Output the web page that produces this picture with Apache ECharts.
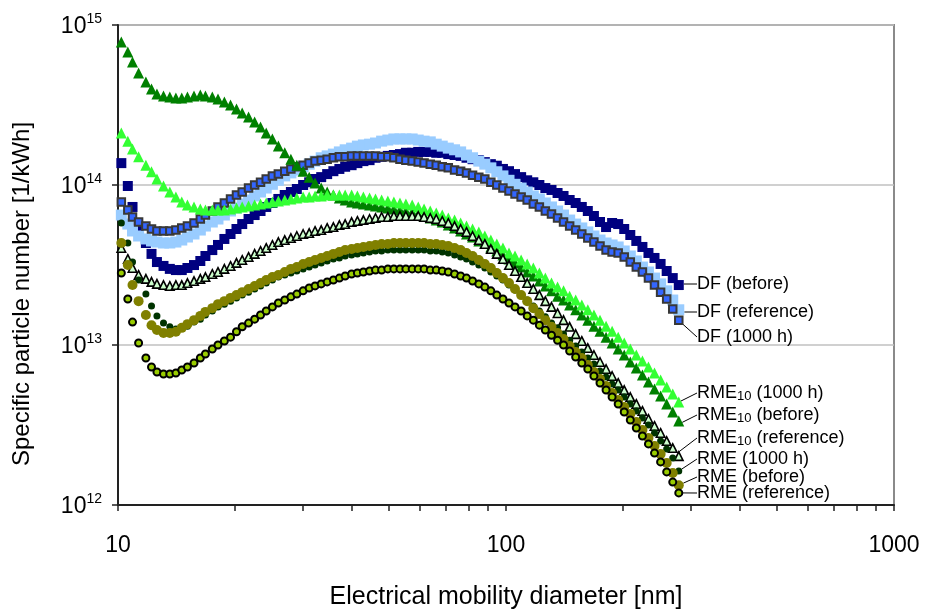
<!DOCTYPE html>
<html><head><meta charset="utf-8">
<script src="https://cdn.jsdelivr.net/npm/echarts@6/dist/echarts.min.js"></script>
<style>html,body{margin:0;padding:0;background:#fff}#c{width:926px;height:610px}</style>
</head><body><div id="c"></div>
<script>
// Electrical mobility diameter [nm]
const diameters = [10.2,10.6,10.9,11.3,11.8,12.2,12.6,13.1,13.6,14.1,
 14.6,15.1,15.7,16.3,16.8,17.5,18.1,18.8,19.5,20.2,
 20.9,21.7,22.5,23.3,24.1,25.0,25.9,26.9,27.9,28.9,
 30.0,31.1,32.2,33.4,34.6,35.9,37.2,38.5,40.0,41.4,
 42.9,44.5,46.1,47.8,49.6,51.4,53.3,55.2,57.3,59.4,
 61.5,63.8,66.1,68.5,71.0,73.7,76.4,79.1,82.0,85.1,
 88.2,91.4,94.7,98.2,101.8,105.5,109.4,113.4,117.6,121.9,
 126.3,131.0,135.8,140.7,145.9,151.2,156.8,162.5,168.5,174.7,
 181.1,187.7,194.6,201.7,209.1,216.7,224.7,232.9,241.4,250.3,
 259.5,269.0,278.8];

// Specific particle number, in units of 1e12 per kWh
const dfBefore = [137,98.6,72.9,54.6,43.4,37.1,33.0,31.2,29.9,29.4,
 29.4,30.3,31.6,33.5,36.0,39.2,42.2,46.0,49.4,53.1,
 57.0,61.3,64.9,68.8,72.9,77.2,81.8,86.6,90.4,94.4,
 100,104,109,112,117,122,126,130,133,137,
 141,143,148,150,152,154,156,159,159,161,
 161,161,159,159,156,154,152,148,145,143,
 139,135,132,126,122,117,112,107,104,100,
 95.7,93.1,89.1,85.4,80.6,77.2,72.9,68.8,64.0,58.7,
 54.6,57.9,57.0,53.1,48.7,44.7,41.0,37.6,35.0,32.1,
 29.0,26.2,23.7];
const dfReference = [64.9,57.0,51.6,48.0,46.0,44.7,44.0,43.4,43.4,44.0,
 45.3,47.3,49.4,52.3,55.4,58.7,61.3,64.9,68.8,71.8,
 76.1,80.6,85.4,90.4,95.7,101,107,114,119,124,
 130,135,141,148,152,156,161,166,170,175,
 178,180,183,188,191,194,194,194,194,191,
 188,186,180,175,170,166,161,154,148,141,
 135,128,121,114,107,101,95.7,90.4,85.4,81.8,
 77.2,72.9,68.8,64.9,60.4,57.0,53.9,50.9,48.0,45.3,
 43.4,42.2,41.0,38.7,36.0,33.5,30.7,28.6,26.2,24.1,
 21.8,19.1,16.6];
const df1000h = [78.3,69.8,63.1,58.7,55.4,53.1,51.6,51.6,51.6,52.3,
 53.9,55.4,57.9,61.3,64.9,68.8,72.9,77.2,81.8,86.6,
 90.4,95.7,100,104,109,114,117,122,126,130,
 133,137,141,143,145,148,150,150,152,152,
 152,152,152,150,150,148,145,143,141,139,
 137,135,133,130,128,124,122,119,115,112,
 109,104,100,95.7,91.7,87.9,84.1,80.6,76.1,72.9,
 68.8,65.9,62.2,58.7,55.4,52.3,49.4,46.6,44.0,41.6,
 39.2,38.1,37.6,35.5,33.0,30.7,28.6,26.2,23.7,21.4,
 19.4,16.8,14.3];
const rme10_1000h = [211,188,168,150,133,121,109,98.6,90.4,84.1,
 78.3,75.0,72.9,70.8,69.8,69.8,69.8,69.8,70.8,71.8,
 72.9,73.9,75.0,76.1,77.2,78.3,79.4,80.6,81.8,82.9,
 84.1,84.1,85.4,85.4,86.6,86.6,86.6,86.6,86.6,85.4,
 84.1,82.9,81.8,80.6,79.4,78.3,77.2,76.1,75.0,72.9,
 70.8,68.8,66.8,64.9,62.2,60.4,57.9,55.4,53.1,50.9,
 48.0,45.3,42.8,40.4,37.6,36.0,34.0,32.1,30.3,28.2,
 26.2,24.4,23.0,21.8,20.2,19.1,17.8,16.6,15.4,14.3,
 13.1,12.2,11.2,10.3,9.44,8.66,7.94,7.29,6.68,6.04,
 5.46,4.94,4.40];
const rme10Before = [783,678,587,501,440,398,371,360,355,350,
 350,355,360,365,360,355,345,330,316,299,
 282,266,248,230,211,194,175,159,145,133,
 122,112,103,95.7,90.4,86.6,82.9,80.6,78.3,77.2,
 76.1,75.0,73.9,72.9,71.8,70.8,69.8,68.8,67.8,65.9,
 64.0,62.2,60.4,58.7,56.2,53.9,51.6,49.4,47.3,44.7,
 43.4,41.0,38.7,36.5,34.5,32.6,30.7,28.6,27.0,25.1,
 23.4,21.8,20.2,19.1,17.8,16.6,15.4,14.3,13.1,12.2,
 11.2,10.3,9.44,8.66,7.83,7.18,6.49,5.87,5.31,4.80,
 4.28,3.81,3.35];
const rme10Reference = [40.4,34.5,30.3,27.4,25.9,24.8,24.1,23.7,23.4,23.7,
 23.7,24.4,25.1,25.9,26.6,27.8,28.6,29.9,31.2,32.6,
 34.0,35.5,37.1,38.7,40.4,42.2,44.0,45.3,46.6,48.0,
 49.4,50.1,51.6,52.3,53.9,54.6,56.2,57.0,58.7,59.6,
 60.4,61.3,62.2,63.1,63.1,64.0,64.0,64.0,64.0,64.0,
 63.1,62.2,61.3,59.6,57.9,55.4,53.1,50.9,48.0,45.3,
 42.8,39.8,37.1,34.5,31.6,29.0,26.6,24.4,22.4,20.5,
 18.8,17.3,15.8,14.3,13.0,11.7,10.6,9.57,8.66,7.83,
 7.08,6.40,5.79,5.23,4.73,4.28,3.87,3.45,3.12,2.82,
 2.51,2.27,2.02];
const rme1000h = [57.9,43.4,33.0,25.5,20.8,17.5,15.2,13.7,13.0,12.6,
 12.8,13.1,13.9,14.5,15.4,16.3,17.3,18.0,18.8,19.7,
 20.5,21.4,22.4,23.4,24.4,25.5,26.6,27.4,28.2,29.0,
 29.9,30.7,31.6,32.6,33.5,34.5,35.0,36.0,36.5,37.1,
 37.6,38.1,38.7,38.7,39.2,39.2,39.2,39.2,39.2,39.2,
 39.2,38.7,38.7,38.1,37.6,36.5,35.5,34.5,33.0,31.6,
 30.3,28.6,27.0,25.5,23.7,22.1,20.5,19.1,17.5,16.3,
 15.0,13.7,12.8,11.7,10.7,9.86,9.04,8.29,7.61,6.88,
 6.31,5.70,5.23,4.73,4.28,3.87,3.50,3.16,2.82,2.51,
 2.24,1.97,1.63];
const rmeBefore = [43.4,31.6,23.7,18.8,15.4,13.3,12.4,11.9,11.9,12.1,
 12.8,13.5,14.3,15.2,16.1,17.0,18.0,18.8,19.7,20.5,
 21.4,22.4,23.4,24.4,25.5,26.6,27.4,28.6,29.9,30.7,
 32.1,33.0,34.0,35.0,36.0,37.1,38.1,39.2,39.8,40.4,
 41.0,41.6,42.2,42.8,42.8,43.4,43.4,43.4,43.4,43.4,
 43.4,42.8,42.8,42.2,41.6,40.4,39.2,37.6,36.0,34.0,
 32.1,30.3,28.2,26.2,24.4,22.4,20.5,18.8,17.0,15.6,
 14.3,13.0,11.9,10.9,9.86,9.04,8.29,7.50,6.78,6.13,
 5.54,5.01,4.53,4.10,3.71,3.30,2.94,2.62,2.34,2.08,
 1.83,1.585,1.33];
const rmeReference = [28.2,19.4,13.9,10.3,8.29,7.29,6.78,6.59,6.59,6.68,
 6.98,7.29,7.72,8.29,8.79,9.44,10.0,10.6,11.2,12.1,
 13.0,13.7,14.5,15.4,16.3,17.3,18.3,19.1,20.0,20.8,
 21.8,22.7,23.4,24.1,24.8,25.5,26.2,27.0,27.8,28.2,
 28.6,29.0,29.4,29.4,29.9,29.9,29.9,29.9,29.9,29.9,
 29.9,29.4,29.4,29.0,28.6,27.8,27.0,26.2,25.1,24.1,
 23.0,21.8,20.5,19.4,18.3,17.3,16.3,15.2,14.3,13.3,
 12.4,11.5,10.7,10.0,9.17,8.41,7.72,7.08,6.40,5.79,
 5.23,4.73,4.28,3.81,3.40,3.03,2.70,2.41,2.11,1.86,
 1.61,1.39,1.19];

const xTickValues = [10,20,30,40,50,60,70,80,90,100,200,300,400,500,600,700,800,900,1000];
const xLabelValues = [10,100,1000];
// top decade nudged a hair below 1e15 so floating-point log rounding keeps it inside the axis extent
const yTickValues = [1e12,1e13,1e14,0.9999999e15];
const UNIT = 1e12;

const FONT = '"Liberation Sans", Arial, sans-serif';

// styling (draw order = array order)
const defs = [
  {name:'DF (before)', text:'DF (before)', data:dfBefore, symbol:'rect', size:10, color:'#000080', bw:0, ly:284},
  {name:'DF (reference)', text:'DF (reference)', data:dfReference, symbol:'rect', size:11, color:'#99CCFF', bw:0, ly:312},
  {name:'DF (1000 h)', text:'DF (1000 h)', data:df1000h, symbol:'rect', size:7.5, color:'#3366FF', border:'#383838', bw:2, ly:337},
  {name:'RME10 (before)', text:'RME{sub|10} (before)', data:rme10Before, symbol:'triangle', size:11, color:'#008000', bw:0, ly:415},
  {name:'RME10 (1000 h)', text:'RME{sub|10} (1000 h)', data:rme10_1000h, symbol:'triangle', size:11, color:'#33FF33', bw:0, ly:393},
  {name:'RME10 (reference)', text:'RME{sub|10} (reference)', data:rme10Reference, symbol:'triangle', size:8.5, color:'#CCFFCC', border:'#000', bw:1.6, ly:438},
  {name:'RME (1000 h)', text:'RME (1000 h)', data:rme1000h, symbol:'circle', size:7, color:'#003300', bw:0, ly:459},
  {name:'RME (before)', text:'RME (before)', data:rmeBefore, symbol:'circle', size:10, color:'#808000', bw:0, ly:477},
  {name:'RME (reference)', text:'RME (reference)', data:rmeReference, symbol:'circle', size:7, color:'#99CC00', border:'#000', bw:2, ly:493}
];

const series = defs.map((d, si) => {
  const last = d.data.length - 1;
  return {
    name: d.name,
    type: 'scatter',
    symbol: d.symbol,
    symbolSize: d.size,
    z: 2 + si,
    itemStyle: {color: d.color, borderColor: d.border || d.color, borderWidth: d.bw, opacity: 1},
    data: d.data.map((v, i) => {
      const item = {value: [diameters[i], v * UNIT]};
      if (i === last) {
        item.label = {
          show: true, formatter: d.text, color: '#000', fontSize: 18, fontFamily: FONT, lineHeight: 20,
          rich: {sub: {fontSize: 13, fontFamily: FONT, color: '#000', lineHeight: 12, verticalAlign: 'bottom', padding: [6, 0, 0, 0]}}
        };
        item.labelLine = {show: true, smooth: false, length2: 0, lineStyle: {color: '#000', width: 1}};
      }
      return item;
    }),
    labelLayout: function () {
      return {x: 697, y: d.ly, align: 'left', verticalAlign: 'middle'};
    },
    labelLine: {show: true, lineStyle: {color: '#000', width: 1}},
    emphasis: {disabled: true},
    animation: false
  };
});

const chart = echarts.init(document.getElementById('c'), null, {renderer: 'canvas'});
chart.setOption({
  backgroundColor: '#fff',
  animation: false,
  grid: {left: 118, right: 32, top: 25, bottom: 105, containLabel: false, outerBoundsMode: 'none',
    show: true, borderColor: '#8a8a8a', borderWidth: 2, backgroundColor: 'transparent'},
  xAxis: {
    type: 'log', logBase: 10, min: 10, max: 1000,
    name: 'Electrical mobility diameter [nm]', nameLocation: 'middle', nameGap: 80,
    nameTextStyle: {fontSize: 25, fontFamily: FONT, color: '#000'},
    axisLine: {show: true, onZero: false, lineStyle: {color: '#222', width: 2}},
    axisTick: {show: true, length: 6, customValues: xTickValues, lineStyle: {color: '#222', width: 1.5}},
    minorTick: {show: false},
    axisLabel: {customValues: xLabelValues, fontSize: 23, fontFamily: FONT, color: '#000', margin: 29,
      showMinLabel: true, showMaxLabel: true,
      formatter: v => String(Math.round(v))},
    splitLine: {show: false}
  },
  yAxis: {
    type: 'log', logBase: 10, min: 1e12, max: 1e15,
    axisLine: {show: true, onZero: false, lineStyle: {color: '#222', width: 2}},
    axisTick: {show: true, length: 6, customValues: yTickValues, lineStyle: {color: '#222', width: 1.5}},
    axisLabel: {customValues: yTickValues, margin: 16, color: '#000', showMinLabel: true, showMaxLabel: true,
      formatter: v => '{b|10}{s|' + Math.round(Math.log10(v)) + '}',
      rich: {
        b: {fontSize: 23, fontFamily: FONT, color: '#000', lineHeight: 26, verticalAlign: 'bottom'},
        s: {fontSize: 14, fontFamily: FONT, color: '#000', lineHeight: 14, verticalAlign: 'top'}
      }},
    splitLine: {show: true, lineStyle: {color: '#c0c0c0', width: 1.5}}
  },
  graphic: [{
    type: 'text', x: 22, y: 294, rotation: Math.PI / 2,
    style: {text: 'Specific particle number [1/kWh]', font: '24px ' + FONT, fill: '#000',
      align: 'center', verticalAlign: 'middle', textAlign: 'center', textVerticalAlign: 'middle'}
  }],
  series: series
});
</script>
</body></html>
